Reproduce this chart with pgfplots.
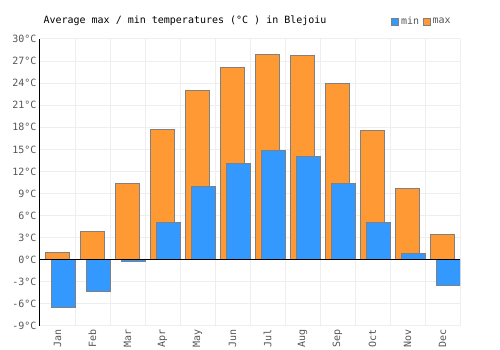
\documentclass[border=0pt]{standalone}
\usepackage{pgfplots}
\pgfplotsset{compat=1.18}
\usepackage{fontspec}
\setmainfont{DejaVu Sans Mono}
\definecolor{cmin}{RGB}{51,153,255}
\definecolor{cmax}{RGB}{255,153,51}
\definecolor{tickgray}{RGB}{85,85,85}
\definecolor{gridgray}{RGB}{238,238,238}
\begin{document}
\begin{tikzpicture}
\useasboundingbox (0pt,0pt) rectangle (500pt,350pt);
\begin{axis}[
  at={(40pt,24pt)}, anchor=south west,
  scale only axis, width=420pt, height=287pt,
  xmin=-0.5, xmax=11.5, ymin=-9, ymax=30,
  axis y line*=left, axis x line*=bottom,
  x axis line style={draw=none},
  y axis line style={black, line width=1pt},
  xtick={0,...,11},
  xticklabels={Jan,Feb,Mar,Apr,May,Jun,Jul,Aug,Sep,Oct,Nov,Dec},
  x tick label style={rotate=90, anchor=east, font=\fontsize{10}{12}\selectfont, text=tickgray},
  minor xtick={-0.5,0.5,...,11.5},
  minor x grid style={gridgray, line width=1pt},
  xminorgrids=true,
  ytick={-9,-6,...,30},
  yticklabels={-9°C,-6°C,-3°C,0°C,3°C,6°C,9°C,12°C,15°C,18°C,21°C,24°C,27°C,30°C},
  y tick label style={font=\fontsize{10}{12}\selectfont, text=tickgray},
  ymajorgrids=true,
  major grid style={gridgray, line width=1pt},
  major tick length=0pt, minor tick length=0pt,
  legend columns=2,
  legend style={at={(0.99,1.06)}, anchor=east, draw=none, fill=none,
    font=\fontsize{10}{12}\selectfont, text=tickgray,
    /tikz/every even column/.append style={column sep=2pt}},
  legend image code/.code={\draw[#1, draw=gray] (0pt,-3.5pt) rectangle (7pt,3.5pt);},
]
\addplot[ybar, bar width=0.67, bar shift=0, fill=cmax, draw=gray, line width=1pt, forget plot]
  coordinates {(0,1.0) (1,3.9) (2,10.3) (3,17.7) (4,23.0) (5,26.1) (6,27.9) (7,27.8) (8,23.9) (9,17.6) (10,9.7) (11,3.4)};
\addplot[ybar, bar width=0.7, bar shift=0.17, fill=cmin, draw=gray, line width=1pt]
  coordinates {(0,-6.5) (1,-4.3) (2,-0.3) (3,5.0) (4,9.9) (5,13.1) (6,14.8) (7,14.1) (8,10.3) (9,5.0) (10,0.9) (11,-3.5)};
\addlegendentry{min}
\addlegendimage{fill=cmax}
\addlegendentry{max}
\draw[black, line width=1pt] (axis cs:-0.5,0) -- (axis cs:11.5,0);
\end{axis}
\node[anchor=base west, font=\fontsize{10}{12}\selectfont] at (40pt,326pt) {Average max / min temperatures (°C ) in Blejoiu};
\end{tikzpicture}
\end{document}
